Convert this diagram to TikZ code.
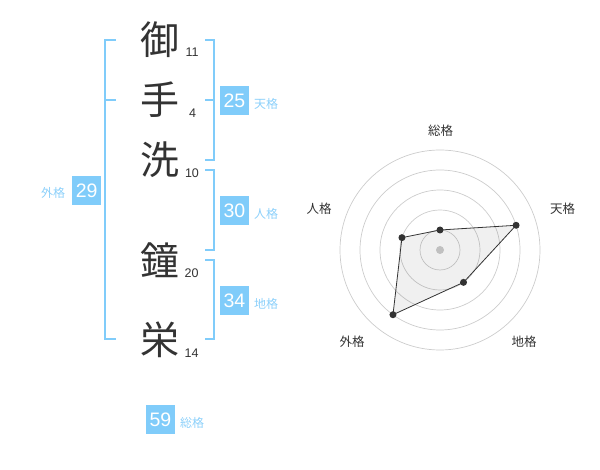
\documentclass[tikz,border=0pt]{standalone}
\usepackage{fontspec}
\setmainfont{Liberation Sans}
\newfontfamily\jfont{Noto Sans CJK JP}
\usepackage{tikz}
\definecolor{kakublue}{RGB}{128,204,250}
\definecolor{kakutext}{RGB}{140,208,250}
\definecolor{inkgray}{RGB}{51,51,51}
\definecolor{ringgray}{RGB}{204,204,204}

\begin{document}
\begin{tikzpicture}
        [%%%%%%%%%%%%%%%%%%%%%%%%%%%%%%
        x=1pt,y=-1pt,
        kanji/.style={text=inkgray,inner sep=0pt,font=\jfont\fontsize{39}{39}\selectfont},
        strokes/.style={text=inkgray,inner sep=0pt,font=\fontsize{12.5}{12.5}\selectfont},
        kakubox/.style={fill=kakublue,text=white,minimum size=29pt,inner sep=0pt,font=\fontsize{19.5}{19.5}\selectfont},
        kakuname/.style={text=kakutext,inner sep=0pt,font=\jfont\fontsize{12}{12}\selectfont},
        bracket/.style={draw=kakublue,line width=2pt},
        ring/.style={draw=ringgray,line width=0.7pt},
        dot/.style={circle,fill=inkgray,inner sep=0pt,minimum size=7pt},
        axisname/.style={text=inkgray,inner sep=0pt,font=\jfont\fontsize{12.5}{12.5}\selectfont},
        ]%%%%%%%%%%%%%%%%%%%%%%%%%%%%%%
        \useasboundingbox (0,0) rectangle (600,470);

        % Name and stroke counts
        \node[kanji] (k1) at (160,40) {御};
        \node[kanji] (k2) at (160,100) {手};
        \node[kanji] (k3) at (160,160) {洗};
        \node[kanji] (k4) at (160,260) {鐘};
        \node[kanji] (k5) at (160,340) {栄};
        \node[strokes] (s1) at (192,52.7) {11};
        \node[strokes] (s2) at (192.7,113) {4};
        \node[strokes] (s3) at (192,172.7) {10};
        \node[strokes] (s4) at (191.7,272.7) {20};
        \node[strokes] (s5) at (191.7,353) {14};

        % Brackets
        \draw[bracket] (115.7,40) -- (105,40) -- (105,339.3) -- (115.7,339.3);
        \draw[bracket] (105,100) -- (115.7,100);
        \draw[bracket] (205,40) -- (214.3,40) -- (214.3,160) -- (205,160);
        \draw[bracket] (205,100) -- (214.3,100);
        \draw[bracket] (205,170) -- (214.3,170) -- (214.3,250) -- (205,250);
        \draw[bracket] (205,260) -- (214.3,260) -- (214.3,339.3) -- (205,339.3);

        % Boxes
        \node[kakubox] (gai) at (86.7,190.5) {29};
        \node[kakubox] (ten) at (234.5,100.5) {25};
        \node[kakubox] (jin) at (234.5,210.3) {30};
        \node[kakubox] (chi) at (234.5,300.3) {34};
        \node[kakubox] (sou) at (160.5,419.5) {59};
        \node[kakuname] at (53,193) {外格};
        \node[kakuname] at (266,104) {天格};
        \node[kakuname] at (266,214) {人格};
        \node[kakuname] at (266,304) {地格};
        \node[kakuname] at (192,423) {総格};

        % Radar chart
        \coordinate (ctr) at (440,250);
        \foreach \r in {20,40,...,100}{
          \draw[ring] (ctr) circle (\r);
        }
        \fill[ringgray] (ctr) circle (4);
        \coordinate (p1) at ([shift={(-90:20)}]ctr);
        \coordinate (p2) at ([shift={(-18:80)}]ctr);
        \coordinate (p3) at ([shift={(54:40)}]ctr);
        \coordinate (p4) at ([shift={(126:80)}]ctr);
        \coordinate (p5) at ([shift={(-162:40)}]ctr);
        \draw[inkgray,line width=0.8pt,fill=black,fill opacity=0.06] (p1) -- (p2) -- (p3) -- (p4) -- (p5) -- cycle;
        \foreach \p in {p1,p2,p3,p4,p5}{
          \node[dot] at (\p){};
        }
        \node[axisname] at (440.7,131) {総格};
        \node[axisname] at (562.5,208.5) {天格};
        \node[axisname] at (524,342) {地格};
        \node[axisname] at (352,342) {外格};
        \node[axisname] at (319,208.5) {人格};

      \end{tikzpicture}
\end{document}
